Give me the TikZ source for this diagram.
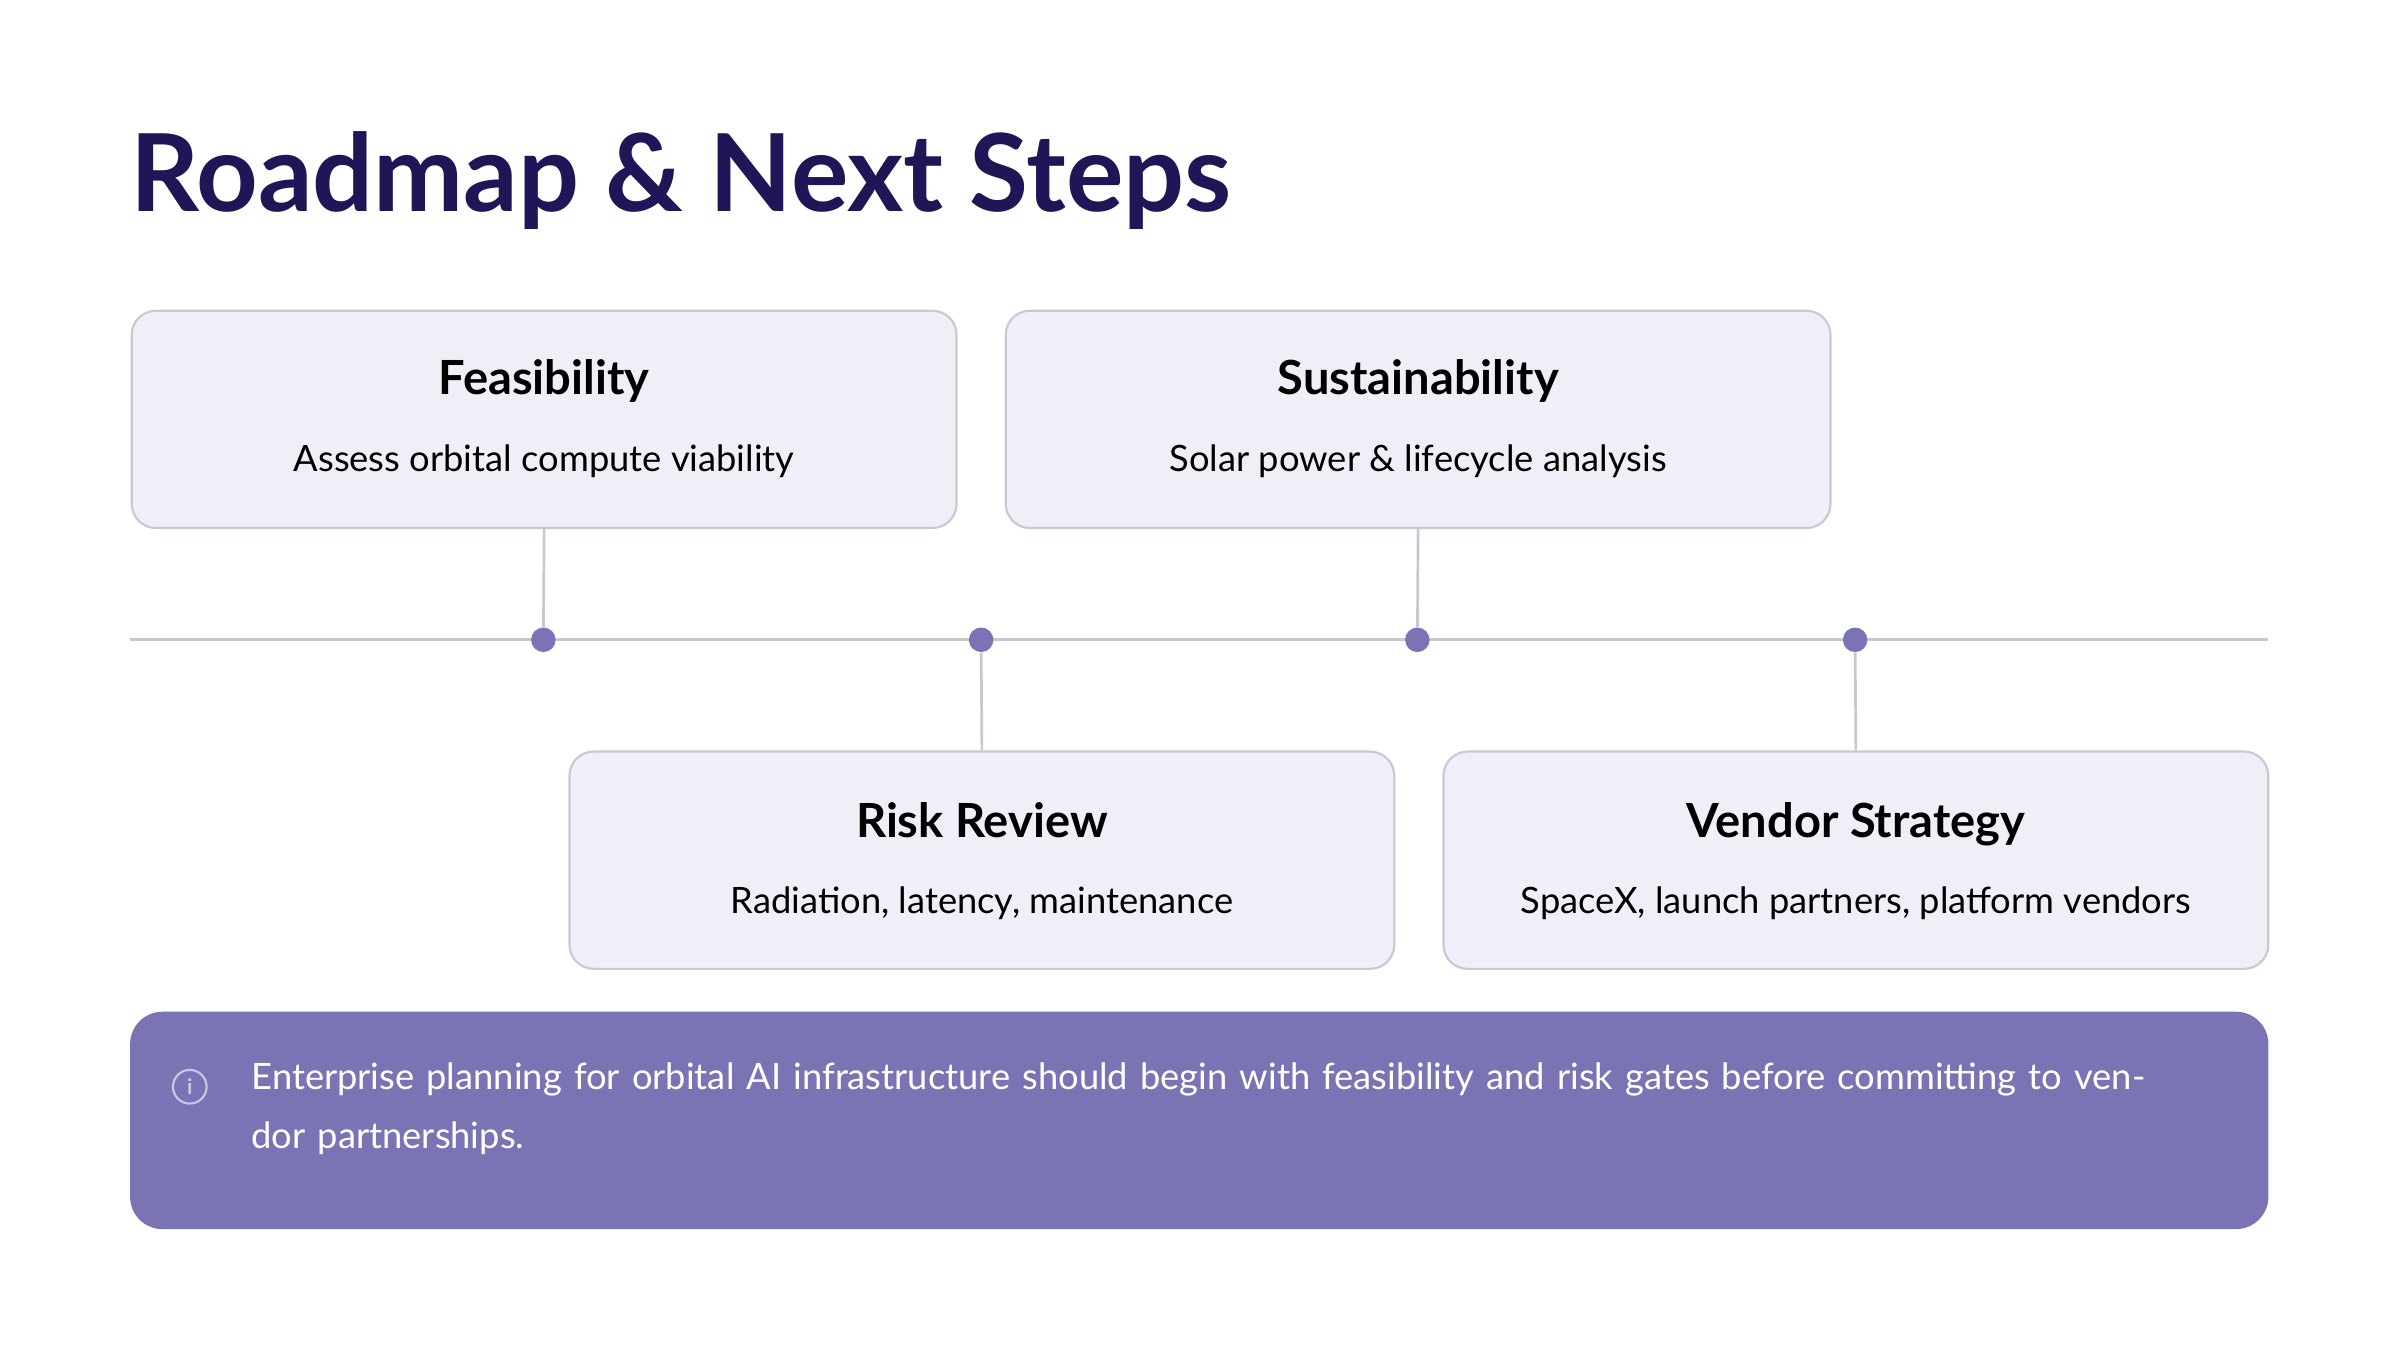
\documentclass[tikz,border=0pt]{standalone}
\usepackage{fontspec}
\setmainfont{Lato}
\usetikzlibrary{positioning}
\definecolor{navy}{HTML}{1F1657}
\definecolor{cardfill}{HTML}{EFF0F7}
\definecolor{cardline}{HTML}{C8C8D8}
\definecolor{lav}{HTML}{7A74B5}
\definecolor{axis}{HTML}{C8C8D2}
\begin{document}
\begin{tikzpicture}[x=0.02cm,y=-0.02cm,
    card/.style={draw=cardline,fill=cardfill,rounded corners=9pt,line width=0.8pt,minimum width=10.78cm,minimum height=2.84cm},
    head/.style={font=\fontsize{17.5}{20}\selectfont\bfseries,text=black},
    sub/.style={font=\fontsize{13.5}{16}\selectfont,text=black},
    dot/.style={circle,fill=lav,inner sep=0pt,minimum size=0.32cm},
    stem/.style={draw=axis,line width=1pt}]
  \useasboundingbox (0,0) rectangle (1568,882);
  \fill[white] (0,0) rectangle (1568,882);
  \node[anchor=base west,inner sep=0pt,text=navy,font=\fontsize{40}{44}\selectfont\bfseries] (title) at (85,138) {Roadmap \& Next Steps};
  % timeline
  \coordinate (lineL) at (85,418);
  \coordinate (lineR) at (1482,418);
  \draw[axis,line width=1.2pt] (lineL) -- (lineR);
  \node[card] (feas) at (355.5,274) {};
  \node[card] (sust) at (926.5,274) {};
  \node[card] (risk) at (641.5,562) {};
  \node[card] (vend) at (1212.5,562) {};
  \foreach \n/\x in {feas/355,risk/641,sust/926,vend/1212}
    \node[dot] (d\n) at (\x,418) {};
  \foreach \n in {feas,sust}
    \draw[stem] (\n.south) -- (d\n);
  \foreach \n in {risk,vend}
    \draw[stem] (\n.north) -- (d\n);
  \node[head,anchor=base] (hfeas) at (355.5,258) {Feasibility};
  \node[sub,anchor=base] (sfeas) at (355.5,308) {Assess orbital compute viability};
  \node[head,anchor=base] (hsust) at (926.5,258) {Sustainability};
  \node[sub,anchor=base] (ssust) at (926.5,308) {Solar power \& lifecycle analysis};
  \node[head,anchor=base] (hrisk) at (641.5,547) {Risk Review};
  \node[sub,anchor=base] (srisk) at (641.5,597) {Radiation, latency, maintenance};
  \node[head,anchor=base] (hvend) at (1212.5,547) {Vendor Strategy};
  \node[sub,anchor=base] (svend) at (1212.5,597) {SpaceX, launch partners, platform vendors};
  % note banner
  \fill[lav,rounded corners=12pt] (85,661) rectangle (1482,803);
  \node[circle,draw=white!60!lav,line width=0.8pt,minimum size=0.44cm,inner sep=0pt,text=white!60!lav,font=\fontsize{8}{8}\selectfont\bfseries] (info) at (124,710) {i};
  \node[anchor=north west,inner sep=0pt,text=white,text width=25.2cm,align=left,
        font=\fontsize{13.5}{22}\selectfont] (note) at (164,694)
    {Enterprise planning for orbital AI infrastructure should begin with feasibility and risk gates before committing to vendor partnerships.};
\end{tikzpicture}
\end{document}
